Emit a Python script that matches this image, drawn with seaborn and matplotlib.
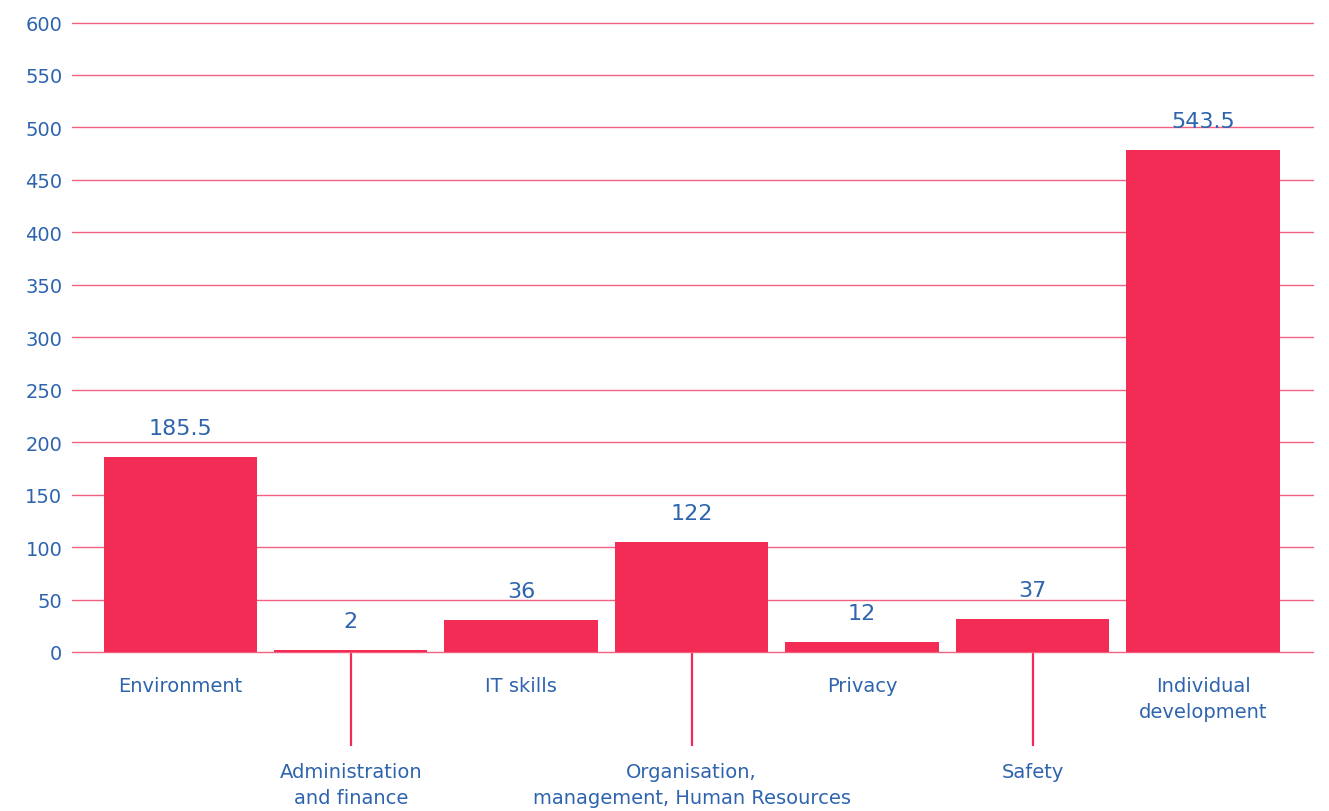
import pandas as pd
from matplotlib import pyplot as plt
import seaborn as sns

categories = ["Environment", "Administration\nand finance", "IT skills",
              "Organisation,\nmanagement, Human Resources", "Privacy", "Safety",
              "Individual\ndevelopment"]
# bar heights as drawn in the source, and the numbers printed above them
bar_heights = [185.5, 1.5, 30.5, 105, 9.5, 31.5, 478]
value_labels = ["185.5", "2", "36", "122", "12", "37", "543.5"]
y_ticks = [0, 50, 100, 150, 200, 250, 300, 350, 400, 450, 500, 550, 600]

RED = "#f22c55"
GRID = "#f2617f"
BLUE = "#2e64ae"

sns.set_theme(style="white")
plt.rcParams["font.family"] = ["DejaVu Sans"]

df = pd.DataFrame({"category": categories, "hours": bar_heights})

fig = plt.figure(figsize=(13.29, 8.12), dpi=100)
ax = fig.add_axes([72 / 1329, 159 / 812, 1241 / 1329, 629.5 / 812])

sns.barplot(data=df, x="category", y="hours", color=RED, saturation=1,
            width=0.9, linewidth=0, ax=ax, zorder=3)

for i, (h, lab) in enumerate(zip(bar_heights, value_labels)):
    ax.annotate(lab, (i, h), xytext=(0, 29), textcoords="offset pixels",
                ha="center", va="center", fontsize=16, color=BLUE, zorder=4)

ax.set_ylim(0, 600)
ax.set_xlim(-0.635, 6.645)
ax.set_yticks(y_ticks)
ax.set_yticklabels([str(t) for t in y_ticks])
ax.yaxis.grid(True, color=GRID, linewidth=1)
for gl in ax.get_ygridlines():
    gl.set_clip_on(False)
ax.set_axisbelow(True)
for s in ax.spines.values():
    s.set_visible(False)

idx = list(range(len(categories)))
ax.set_xticks(idx[0::2], [categories[i] for i in idx[0::2]])
ax.set_xticks(idx[1::2], [categories[i] for i in idx[1::2]], minor=True)
ax.tick_params(axis="x", which="major", length=0, pad=17, labelsize=14,
               labelcolor=BLUE)
ax.tick_params(axis="x", which="minor", length=68, width=1.6, color=RED,
               pad=11, labelsize=14, labelcolor=BLUE, bottom=True)
ax.tick_params(axis="y", length=0, pad=7, labelsize=14, labelcolor=BLUE)
for t in ax.get_xticklabels(minor=False) + ax.get_xticklabels(minor=True):
    t.set_linespacing(1.5)

ax.set_xlabel("")
ax.set_ylabel("")

fig.savefig("out.png", dpi=100, facecolor="white")
